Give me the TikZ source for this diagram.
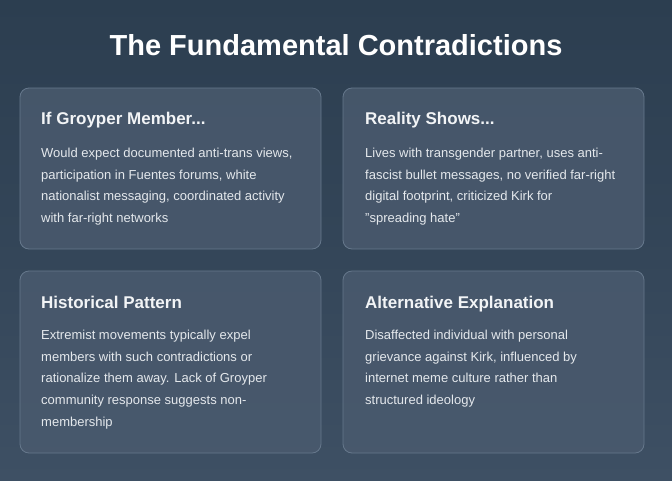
\documentclass[tikz,border=0pt]{standalone}
\usepackage{fontspec}
\setmainfont{Liberation Sans}
\definecolor{bgtop}{HTML}{2C3E50}
\definecolor{bgbot}{HTML}{3E5064}
\definecolor{cardfill}{HTML}{4A5A6E}
\definecolor{cardline}{HTML}{66788C}
\definecolor{headtext}{HTML}{F2F4F6}
\definecolor{bodytext}{HTML}{E4E8EC}

\begin{document}
\begin{tikzpicture}[x=1pt,y=-1pt,
    card_box/.style={draw=cardline,fill=cardfill,fill opacity=0.85,rounded corners=9pt,line width=0.8pt},
    card_head/.style={anchor=north west,inner sep=0pt,text=headtext,font=\fontsize{17}{20}\selectfont\bfseries},
    card_body/.style={anchor=north west,inner sep=0pt,text=bodytext,align=left,
      font=\fontsize{13}{21.6}\selectfont},
    title_text/.style={text=white,font=\fontsize{29}{34}\selectfont\bfseries}]
  \useasboundingbox (0,0) rectangle (672,480);
  \shade[top color=bgtop,bottom color=bgbot,middle color=bgtop!60!bgbot] (0,0) rectangle (672,480);
\node[title_text] (title) at (336,45) {The Fundamental Contradictions};
% cards
\draw[card_box] (20,88) rectangle (321,249);
\draw[card_box] (343,88) rectangle (644,249);
\draw[card_box] (20,271) rectangle (321,453);
\draw[card_box] (343,271) rectangle (644,453);
\node[card_head] (h1) at (41,112) {If Groyper Member...};
\node[card_head] (h2) at (365,112) {Reality Shows...};
\node[card_head] (h3) at (41,296) {Historical Pattern};
\node[card_head] (h4) at (365,296) {Alternative Explanation};
\node[card_body] (b1) at (41,148) {Would expect documented anti-trans views,\\participation in Fuentes forums, white\\nationalist messaging, coordinated activity\\with far-right networks};
\node[card_body] (b2) at (365,148) {Lives with transgender partner, uses anti-\\fascist bullet messages, no verified far-right\\digital footprint, criticized Kirk for\\\symbol{34}spreading hate\symbol{34}};
\node[card_body] (b3) at (41,330) {Extremist movements typically expel\\members with such contradictions or\\rationalize them away. Lack of Groyper\\community response suggests non-\\membership};
\node[card_body] (b4) at (365,330) {Disaffected individual with personal\\grievance against Kirk, influenced by\\internet meme culture rather than\\structured ideology};
\end{tikzpicture}
\end{document}
